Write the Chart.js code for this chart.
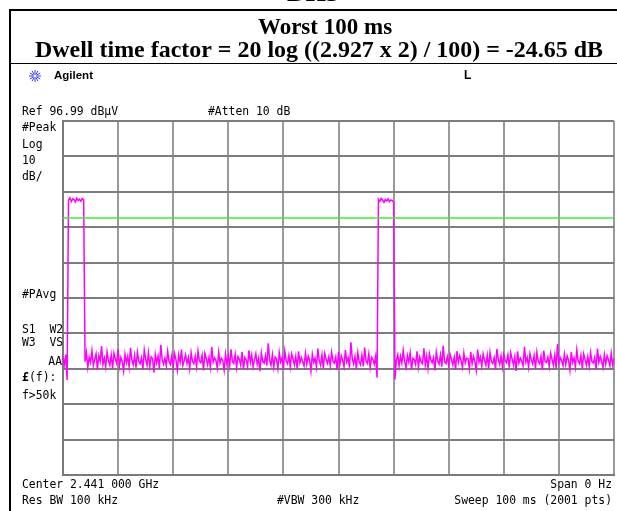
<!DOCTYPE html>
<html lang="en">
<head>
<meta charset="UTF-8">
<title>DH5 - Worst 100 ms</title>
<script src="https://cdn.jsdelivr.net/npm/chart.js"></script>
<style>
    html, body { margin: 0; padding: 0; background: #fff; overflow: hidden; }
    #box { position: relative; width: 617px; height: 511px; }
</style>
</head>
<body>
<div id="box"><canvas id="sweepCanvas"></canvas></div>

<script>
    // sweep: 0..100 ms, one level every 0.25 ms (dBuV)
    const sweepStepMs = 0.25;
    const xTicks = [0, 10, 20, 30, 40, 50, 60, 70, 80, 90, 100];
    const yTicks = [-3.01, 6.99, 16.99, 26.99, 36.99, 46.99, 56.99, 66.99, 76.99, 86.99, 96.99];
    const displayLine = 69.6;

    const traceLevels = [
        30.4, 28.1, 31.0, 23.8,
        74.6, 75.3, 74.2, 75.0, 74.8, 74.1, 75.2, 74.5, 74.9, 74.3, 75.1, 74.7,
        29.0, 31.6, 27.4, 30.3, 28.8, 32.1, 27.9, 29.6, 31.2, 26.8, 30.7, 29.1, 33.4, 28.2, 30.0, 27.5, 31.8, 29.3, 28.0, 30.9,
        27.2, 31.4, 29.8, 28.5, 32.6, 27.8, 30.2, 29.0, 26.4, 31.1, 28.7, 30.5, 27.6, 32.9, 29.4, 28.1, 30.8, 27.3, 31.7, 29.2,
        28.4, 30.1, 26.9, 32.3, 29.7, 28.0, 31.5, 27.7, 30.4, 29.9, 25.9, 31.0, 28.6, 30.6, 27.1, 33.8, 29.5, 28.3, 30.0, 27.8,
        31.9, 29.0, 28.2, 30.7, 27.5, 31.3, 29.6, 26.7, 30.9, 28.8, 32.4, 27.9, 29.3, 31.0, 28.5, 30.2, 27.0, 31.6, 29.1, 28.4,
        30.5, 27.6, 32.0, 29.2, 28.7, 30.8, 26.5, 31.4, 29.9, 28.1, 30.3, 27.4, 33.1, 28.9, 30.1, 29.4, 27.2, 31.7, 28.6, 30.0,
        29.3, 26.6, 31.2, 28.3, 30.6, 27.8, 32.5, 29.0, 28.5, 31.1, 27.3, 30.4, 29.7, 28.0, 31.8, 26.9, 30.2, 29.5, 27.7, 32.2,
        28.8, 30.9, 27.5, 29.6, 31.3, 28.2, 30.0, 26.3, 31.5, 29.1, 28.6, 30.7, 27.9, 34.2, 29.4, 28.0, 31.0, 27.4, 30.3, 29.8,
        27.1, 31.6, 28.9, 30.1, 26.8, 32.0, 29.2, 28.4, 30.8, 27.6, 31.2, 29.7, 28.1, 30.5, 27.0, 31.9, 28.7, 30.2, 29.0, 27.8,
        31.4, 28.3, 30.6, 29.5, 26.4, 31.1, 28.8, 30.0, 27.5, 32.7, 29.3, 28.0, 30.9, 27.2, 31.3, 29.6, 28.5, 30.4, 27.9, 31.7,
        29.1, 28.6, 30.3, 26.7, 31.8, 28.2, 30.7, 29.4, 27.6, 32.3, 28.9, 30.1, 27.3, 34.5, 29.8, 28.4, 30.5, 26.9, 31.5, 29.0,
        28.1, 30.8, 27.7, 33.0, 29.2, 28.5, 31.2, 27.4, 30.2, 29.6, 28.3, 30.6,
        24.5,
        74.9, 74.3, 75.1, 74.6, 74.0, 74.8, 74.4, 75.0, 74.2, 74.7, 74.5, 74.1,
        24.0,
        29.4, 31.0, 27.8, 30.5, 28.6, 32.2, 29.1, 27.3, 30.8, 28.9, 31.5, 26.7, 30.0, 29.6, 28.2, 31.9, 27.5, 30.3, 29.0, 28.4,
        32.8, 28.0, 30.6, 27.1, 31.3, 29.5, 28.7, 30.1, 26.5, 31.7, 29.2, 28.3, 30.9, 27.6, 33.5, 29.0, 28.5, 30.4, 27.9, 31.1,
        29.7, 28.1, 30.2, 26.8, 32.0, 28.8, 30.7, 29.3, 27.4, 31.4, 28.6, 30.0, 29.9, 27.0, 31.8, 28.4, 30.5, 29.1, 26.6, 32.4,
        28.9, 30.3, 27.7, 31.2, 29.4, 28.0, 30.8, 27.2, 31.6, 29.0, 28.5, 30.1, 26.9, 32.6, 29.6, 28.2, 30.6, 27.5, 31.0, 29.3,
        28.7, 30.9, 27.3, 31.5, 29.8, 28.1, 30.4, 26.4, 31.9, 28.6, 30.0, 29.2, 27.8, 33.2, 28.9, 30.2, 27.4, 31.3, 29.5, 28.3,
        30.7, 27.0, 31.7, 29.1, 28.4, 30.5, 26.7, 32.1, 29.0, 28.8, 30.3, 27.6, 31.4, 29.7, 28.0, 30.9, 27.2, 34.0, 28.5, 30.1,
        29.3, 27.9, 31.1, 28.2, 30.6, 29.4, 26.6, 31.8, 28.7, 30.0, 27.5, 32.3, 29.1, 28.4, 30.8, 27.1, 31.2, 29.6, 28.0, 30.4,
        27.7, 31.6, 29.0, 28.6, 30.2, 26.9, 32.7, 28.8, 30.5, 29.2, 27.3, 31.0, 28.3, 30.7, 29.5, 27.8, 31.4, 28.1, 30.0
    ];

    const trace = traceLevels.map((v, i) => ({ x: i * sweepStepMs, y: v }));

    const mono = '11.4px "DejaVu Sans Mono"';

    // labels around the screen, the title box and the frame
    const frameTexts = {
        id: 'frameTexts',
        afterDraw(chart) {
            const c = chart.ctx;
            c.save();
            c.fillStyle = '#000';
            c.fillRect(9, 9, 608, 2);
            c.fillRect(9, 9, 2, 502);
            c.fillRect(9, 63, 608, 1);

            c.textBaseline = 'alphabetic';
            c.textAlign = 'center';
            c.font = 'bold 26px "Liberation Serif"';
            c.fillText('DH5', 313, 1);
            c.font = 'bold 23px "Liberation Serif"';
            c.fillText('Worst 100 ms', 325, 34);
            let line2 = 'Dwell time factor = 20 log ((2.927 x 2) / 100) = -24.65 dB';
            let w = c.measureText(line2).width;
            c.save();
            c.translate(319, 57);
            c.scale(568 / w, 1);
            c.fillText(line2, 0, 0);
            c.restore();

            // agilent logo
            c.strokeStyle = '#2f3cff';
            c.lineWidth = 1;
            for (let k = 0; k < 12; k++) {
                let a = k * Math.PI / 6;
                c.beginPath();
                c.moveTo(35 + Math.cos(a) * 1.5, 76 + Math.sin(a) * 1.5);
                c.lineTo(35 + Math.cos(a) * 6, 76 + Math.sin(a) * 6);
                c.stroke();
            }
            c.textAlign = 'left';
            c.textBaseline = 'middle';
            c.font = 'bold 11.5px "Liberation Sans"';
            c.fillText('Agilent', 54, 76);
            c.font = 'bold 12px "Liberation Sans"';
            c.fillText('L', 464, 76);

            c.font = mono;
            c.fillText('Ref 96.99 dBµV', 22, 112);
            c.fillText('#Atten 10 dB', 208, 112);
            c.fillText('#Peak', 22, 128);
            c.fillText('Log', 22, 145);
            c.fillText('10', 22, 161);
            c.fillText('dB/', 22, 177);
            c.fillText('#PAvg', 22, 295);
            c.fillText('S1  W2', 22, 330);
            c.fillText('W3  VS', 22, 343);
            c.fillText('f>50k', 22, 396);
            c.fillText('Center 2.441 000 GHz', 22, 485);
            c.fillText('Res BW 100 kHz', 22, 501);
            c.fillText('#VBW 300 kHz', 277, 501);
            c.font = 'bold 11.4px "DejaVu Sans Mono"';
            c.fillText('£', 22, 378);
            c.font = mono;
            c.fillText('(f):', 29, 378);
            c.textAlign = 'right';
            c.fillText('AA', 62, 362);
            c.fillText('Span 0 Hz', 612, 485);
            c.fillText('Sweep 100 ms (2001 pts)', 612, 501);
            c.restore();
        }
    };

    new Chart(document.getElementById('sweepCanvas'), {
        type: 'line',
        data: {
            datasets: [{
                label: 'Display line',
                data: [{ x: 0, y: displayLine }, { x: 100, y: displayLine }],
                borderColor: '#3fe83f',
                borderWidth: 1.5,
                pointRadius: 0
            }, {
                label: 'Trace',
                data: trace,
                borderColor: '#ff00ff',
                borderWidth: 1.5,
                pointRadius: 0,
                tension: 0
            }]
        },
        options: {
            animation: false,
            responsive: true,
            maintainAspectRatio: false,
            layout: { padding: { left: 63, top: 121, right: 3, bottom: 36 } },
            plugins: { legend: { display: false }, tooltip: { enabled: false } },
            scales: {
                x: {
                    type: 'linear', min: 0, max: 100,
                    ticks: { display: false },
                    grid: { color: '#9a9a9a', lineWidth: 2, drawTicks: false },
                    border: { color: '#7a7a7a', width: 2 },
                    afterBuildTicks: s => { s.ticks = xTicks.map(v => ({ value: v })); }
                },
                y: {
                    type: 'linear', min: -3.01, max: 96.99,
                    ticks: { display: false },
                    grid: { color: '#7d7d7d', lineWidth: 2, drawTicks: false },
                    border: { color: '#7a7a7a', width: 2 },
                    afterBuildTicks: s => { s.ticks = yTicks.map(v => ({ value: v })); }
                }
            }
        },
        plugins: [frameTexts]
    });
</script>
</body>
</html>
